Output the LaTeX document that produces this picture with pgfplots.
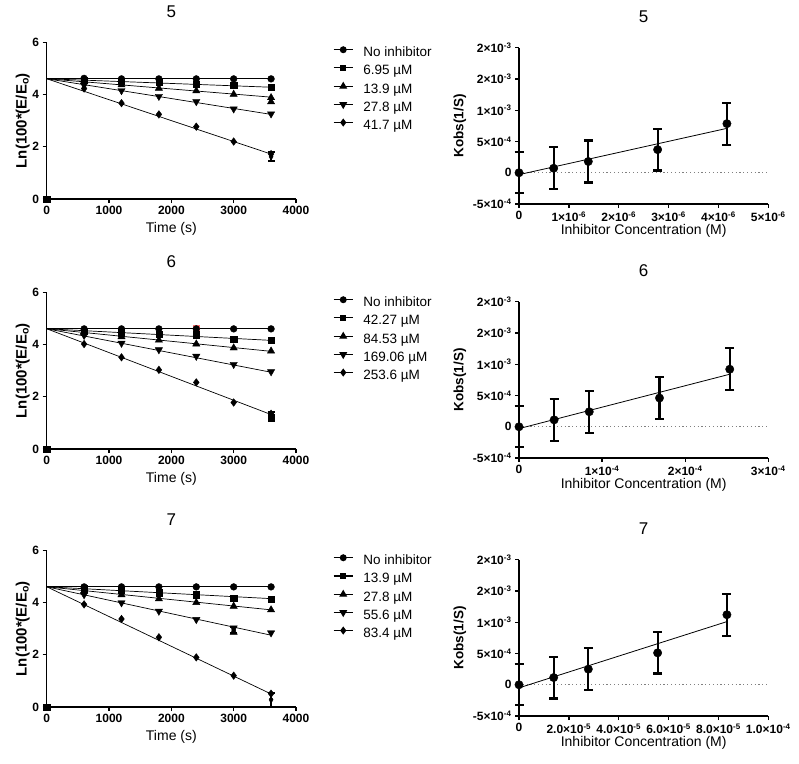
\documentclass[border=0pt]{standalone}
\usepackage{fontspec}
\setmainfont{Liberation Sans}
\usepackage{pgfplots}
\pgfplotsset{compat=1.18}

\pgfplotsset{
  base/.style={scale only axis, axis lines=left, axis line style={-,line width=1.4pt},
    tick align=outside, tick style={line width=1.4pt,black}, major tick length=4pt,
    clip=false, scaled x ticks=false, scaled y ticks=false,
    tick label style={font=\fontsize{12}{13}\selectfont\bfseries},
    title style={at={(0.5,1)},anchor=center,yshift=25pt,font=\fontsize{17}{19}\selectfont},
    xlabel style={at={(0.5,0)},anchor=center,font=\fontsize{14}{16}\selectfont},
    every axis y label/.style={at={(0,0.5)},anchor=center,rotate=90,font=\fontsize{13.5}{15}\selectfont\bfseries}},
  kin/.style={base, width=249.3pt, height=156.7pt, anchor=south west,
    xmin=0, xmax=4000, ymin=0, ymax=6,
    xtick={0,1000,2000,3000,4000}, xticklabels={0,1000,2000,3000,4000},
    ytick={0,2,4,6}, yticklabels={0,2,4,6},
    xlabel={Time (s)}, xlabel style={yshift=-30pt},
    ylabel={Ln(100*(E/E\textsubscript{o})}, ylabel style={yshift=24pt, font=\fontsize{15}{17}\selectfont\bfseries},
    legend cell align=left,
    legend style={at={(1.148,0.973)}, anchor=north west, draw=none, fill=none,
      inner sep=0pt, row sep=5.1pt, font=\fontsize{13.5}{15}\selectfont,
      nodes={inner sep=0pt, text height=10pt, text depth=3pt}},
    legend image code/.code={\draw[mark repeat=2,mark phase=2,##1] plot coordinates {(0pt,3.5pt)(9.5pt,3.5pt)(19pt,3.5pt)}; \path (29pt,0pt);}},
  kob/.style={base, width=249.3pt, height=156.3pt, anchor=south west,
    xmin=0, ymin=-5e-4, ymax=2e-3,
    ytick={-5e-4,0,5e-4,1e-3,1.5e-3,2e-3},
    yticklabels={-5×10\textsuperscript{-4},0,5×10\textsuperscript{-4},1×10\textsuperscript{-3},2×10\textsuperscript{-3},2×10\textsuperscript{-3}},
    xlabel={Inhibitor Concentration (M)}, xlabel style={yshift=-27pt},
    ylabel={Kobs(1/S)}, ylabel style={yshift=59pt}},
  fit/.style={black, line width=0.7pt, mark=none, forget plot},
  mk/.style={black, only marks, forget plot, mark options={solid, fill=black}},
  mc/.style={mark=*, mark size=3.4pt},
  ms/.style={mark=square*, mark size=3.1pt},
  mt/.style={mark=triangle*, mark size=4.2pt},
  mv/.style={mark=triangle*, mark size=4.2pt, mark options={rotate=180, fill=black}},
  md/.style={mark=diamond*, mark size=3.8pt},
  leg/.style={black, line width=1.3pt, mark options={solid, fill=black}},
  ebl/.style={black, only marks, forget plot, mark=none,
    error bars/.cd, y dir=both, y explicit,
    error bar style={line width=2.4pt},
    error mark options={rotate=90, mark size=3.5pt, line width=2pt}},
  kobfit/.style={black, line width=0.8pt, mark=none},
  zero/.style={gray, line width=1pt, dash pattern=on 1.2pt off 2.6pt},
  kobpts/.style={black, only marks, mark=*, mark size=4.2pt,
    error bars/.cd, y dir=both, y explicit,
    error bar style={line width=2.2pt},
    error mark options={rotate=90, mark size=4.5pt, line width=2.2pt}}
}

\begin{document}
\begin{tikzpicture}
\useasboundingbox (0,0) rectangle (799pt,-763pt);

% ---------- row 5 ----------
\begin{axis}[kin, at={(46.7pt,-199pt)}, title={5}]
\addlegendimage{leg, mc, mark size=2.8pt}\addlegendentry{No inhibitor}
\addlegendimage{leg, ms, mark size=2.6pt}\addlegendentry{6.95 µM}
\addlegendimage{leg, mt, mark size=3.4pt}\addlegendentry{13.9 µM}
\addlegendimage{leg, mv, mark size=3.4pt}\addlegendentry{27.8 µM}
\addlegendimage{leg, md, mark size=3pt}\addlegendentry{41.7 µM}
\addplot[fit] coordinates {(0,4.605)(3600,4.605)};
\addplot[fit] coordinates {(0,4.605)(3600,4.28)};
\addplot[fit] coordinates {(0,4.605)(3600,3.9)};
\addplot[fit] coordinates {(0,4.605)(3600,3.24)};
\addplot[fit] coordinates {(0,4.605)(3600,1.72)};
\addplot[ebl] coordinates {(3600,1.62) +- (0,0.18)};
\addplot[mk, md] coordinates {(600,4.23)(1200,3.67)(1800,3.24)(2400,2.77)(3000,2.2)(3600,1.72)};
\addplot[mk, mv] coordinates {(600,4.36)(1200,4.15)(1800,3.93)(2400,3.73)(3000,3.45)(3600,3.26)};
\addplot[mk, mt] coordinates {(600,4.5)(1200,4.37)(1800,4.24)(2400,4.14)(3000,4.01)(3600,3.88)(3600,3.72)};
\addplot[mk, ms] coordinates {(0,0)(600,4.55)(1200,4.5)(1800,4.46)(2400,4.41)(3000,4.35)(3600,4.28)};
\addplot[mk, mc] coordinates {(600,4.62)(1200,4.6)(1800,4.6)(2400,4.6)(3000,4.6)(3600,4.6)};
\end{axis}

\begin{axis}[kob, at={(519pt,-204pt)}, title={5}, xmax=5e-6,
  xtick={0,1e-6,2e-6,3e-6,4e-6,5e-6},
  xticklabels={0,1×10\textsuperscript{-6},2×10\textsuperscript{-6},3×10\textsuperscript{-6},4×10\textsuperscript{-6},5×10\textsuperscript{-6}}]
\addplot[zero] coordinates {(0,0)(5e-6,0)};
\addplot[kobfit] coordinates {(0,-3e-5)(4.17e-6,7.1e-4)};
\addplot[kobpts] coordinates {(0,0) +- (0,3.3e-4) (6.95e-7,0.72e-4) +- (0,3.35e-4)
  (1.39e-6,1.8e-4) +- (0,3.35e-4) (2.78e-6,3.7e-4) +- (0,3.35e-4) (4.17e-6,7.85e-4) +- (0,3.35e-4)};
\end{axis}

% ---------- row 6 ----------
\begin{axis}[kin, at={(46.7pt,-449pt)}, title={6}]
\addlegendimage{leg, mc, mark size=2.8pt}\addlegendentry{No inhibitor}
\addlegendimage{leg, ms, mark size=2.6pt}\addlegendentry{42.27 µM}
\addlegendimage{leg, mt, mark size=3.4pt}\addlegendentry{84.53 µM}
\addlegendimage{leg, mv, mark size=3.4pt}\addlegendentry{169.06 µM}
\addlegendimage{leg, md, mark size=3pt}\addlegendentry{253.6 µM}
\addplot[fit] coordinates {(0,4.605)(3600,4.605)};
\addplot[fit] coordinates {(0,4.605)(3600,4.16)};
\addplot[fit] coordinates {(0,4.605)(3600,3.74)};
\addplot[fit] coordinates {(0,4.605)(3600,2.94)};
\addplot[fit] coordinates {(0,4.605)(3600,1.32)};
\addplot[mk, ms, mark options={fill=red!55, draw=red!55}] coordinates {(2400,4.62)};
\addplot[ebl] coordinates {(3600,1.28) +- (0,0.13)};
\addplot[mk, md] coordinates {(600,4.02)(1200,3.51)(1800,3.03)(2400,2.55)(3000,1.78)(3600,1.35)};
\addplot[mk, mv] coordinates {(600,4.35)(1200,4.05)(1800,3.8)(2400,3.55)(3000,3.24)(3600,2.96)};
\addplot[mk, mt] coordinates {(600,4.45)(1200,4.3)(1800,4.17)(2400,4.02)(3000,3.87)(3600,3.75)};
\addplot[mk, ms] coordinates {(0,0)(600,4.52)(1200,4.45)(1800,4.4)(2400,4.38)(3000,4.22)(3600,4.18)(3600,1.2)};
\addplot[mk, mc] coordinates {(600,4.6)(1200,4.6)(1800,4.6)(2400,4.6)(3000,4.6)(3600,4.6)};
\end{axis}

\begin{axis}[kob, at={(519pt,-458pt)}, title={6}, xmax=3e-4,
  xtick={0,1e-4,2e-4,3e-4},
  xticklabels={0,1×10\textsuperscript{-4},2×10\textsuperscript{-4},3×10\textsuperscript{-4}}]
\addplot[zero] coordinates {(0,0)(3e-4,0)};
\addplot[kobfit] coordinates {(0,-3e-5)(2.536e-4,8.4e-4)};
\addplot[kobpts] coordinates {(0,0) +- (0,3.3e-4) (4.227e-5,1.1e-4) +- (0,3.35e-4)
  (8.453e-5,2.4e-4) +- (0,3.35e-4) (1.6906e-4,4.6e-4) +- (0,3.35e-4) (2.536e-4,9.2e-4) +- (0,3.35e-4)};
\end{axis}

% ---------- row 7 ----------
\begin{axis}[kin, at={(46.7pt,-707pt)}, title={7}]
\addlegendimage{leg, mc, mark size=2.8pt}\addlegendentry{No inhibitor}
\addlegendimage{leg, ms, mark size=2.6pt}\addlegendentry{13.9 µM}
\addlegendimage{leg, mt, mark size=3.4pt}\addlegendentry{27.8 µM}
\addlegendimage{leg, mv, mark size=3.4pt}\addlegendentry{55.6 µM}
\addlegendimage{leg, md, mark size=3pt}\addlegendentry{83.4 µM}
\addplot[fit] coordinates {(0,4.605)(3600,4.605)};
\addplot[fit] coordinates {(0,4.605)(3600,4.15)};
\addplot[fit] coordinates {(0,4.605)(3600,3.72)};
\addplot[fit] coordinates {(0,4.605)(3600,2.75)};
\addplot[fit] coordinates {(0,4.605)(3600,0.5)};
\addplot[ebl] coordinates {(3600,0.28) +- (0,0.27) (3000,2.95) +- (0,0.12)};
\addplot[mk, md] coordinates {(600,3.93)(1200,3.37)(1800,2.67)(2400,1.9)(3000,1.2)(3600,0.51)};
\addplot[mk, mv] coordinates {(600,4.3)(1200,3.99)(1800,3.67)(2400,3.35)(3000,3.03)(3600,2.84)};
\addplot[mk, mt] coordinates {(600,4.43)(1200,4.3)(1800,4.14)(2400,4.0)(3000,3.86)(3600,3.72)(3000,2.86)};
\addplot[mk, ms] coordinates {(0,0)(600,4.53)(1200,4.46)(1800,4.38)(2400,4.3)(3000,4.18)(3600,4.14)};
\addplot[mk, mc] coordinates {(600,4.6)(1200,4.6)(1800,4.6)(2400,4.6)(3000,4.6)(3600,4.6)};
\end{axis}

\begin{axis}[kob, at={(519pt,-716pt)}, title={7}, xmax=1e-4,
  xtick={0,2e-5,4e-5,6e-5,8e-5,1e-4},
  xticklabels={0,2.0×10\textsuperscript{-5},4.0×10\textsuperscript{-5},6.0×10\textsuperscript{-5},8.0×10\textsuperscript{-5},1.0×10\textsuperscript{-4}}]
\addplot[zero] coordinates {(0,0)(1e-4,0)};
\addplot[kobfit] coordinates {(0,-5e-5)(8.34e-5,1.01e-3)};
\addplot[kobpts] coordinates {(0,0) +- (0,3.3e-4) (1.39e-5,1.15e-4) +- (0,3.35e-4)
  (2.78e-5,2.5e-4) +- (0,3.35e-4) (5.56e-5,5.1e-4) +- (0,3.3e-4) (8.34e-5,1.12e-3) +- (0,3.35e-4)};
\end{axis}
\end{tikzpicture}
\end{document}
